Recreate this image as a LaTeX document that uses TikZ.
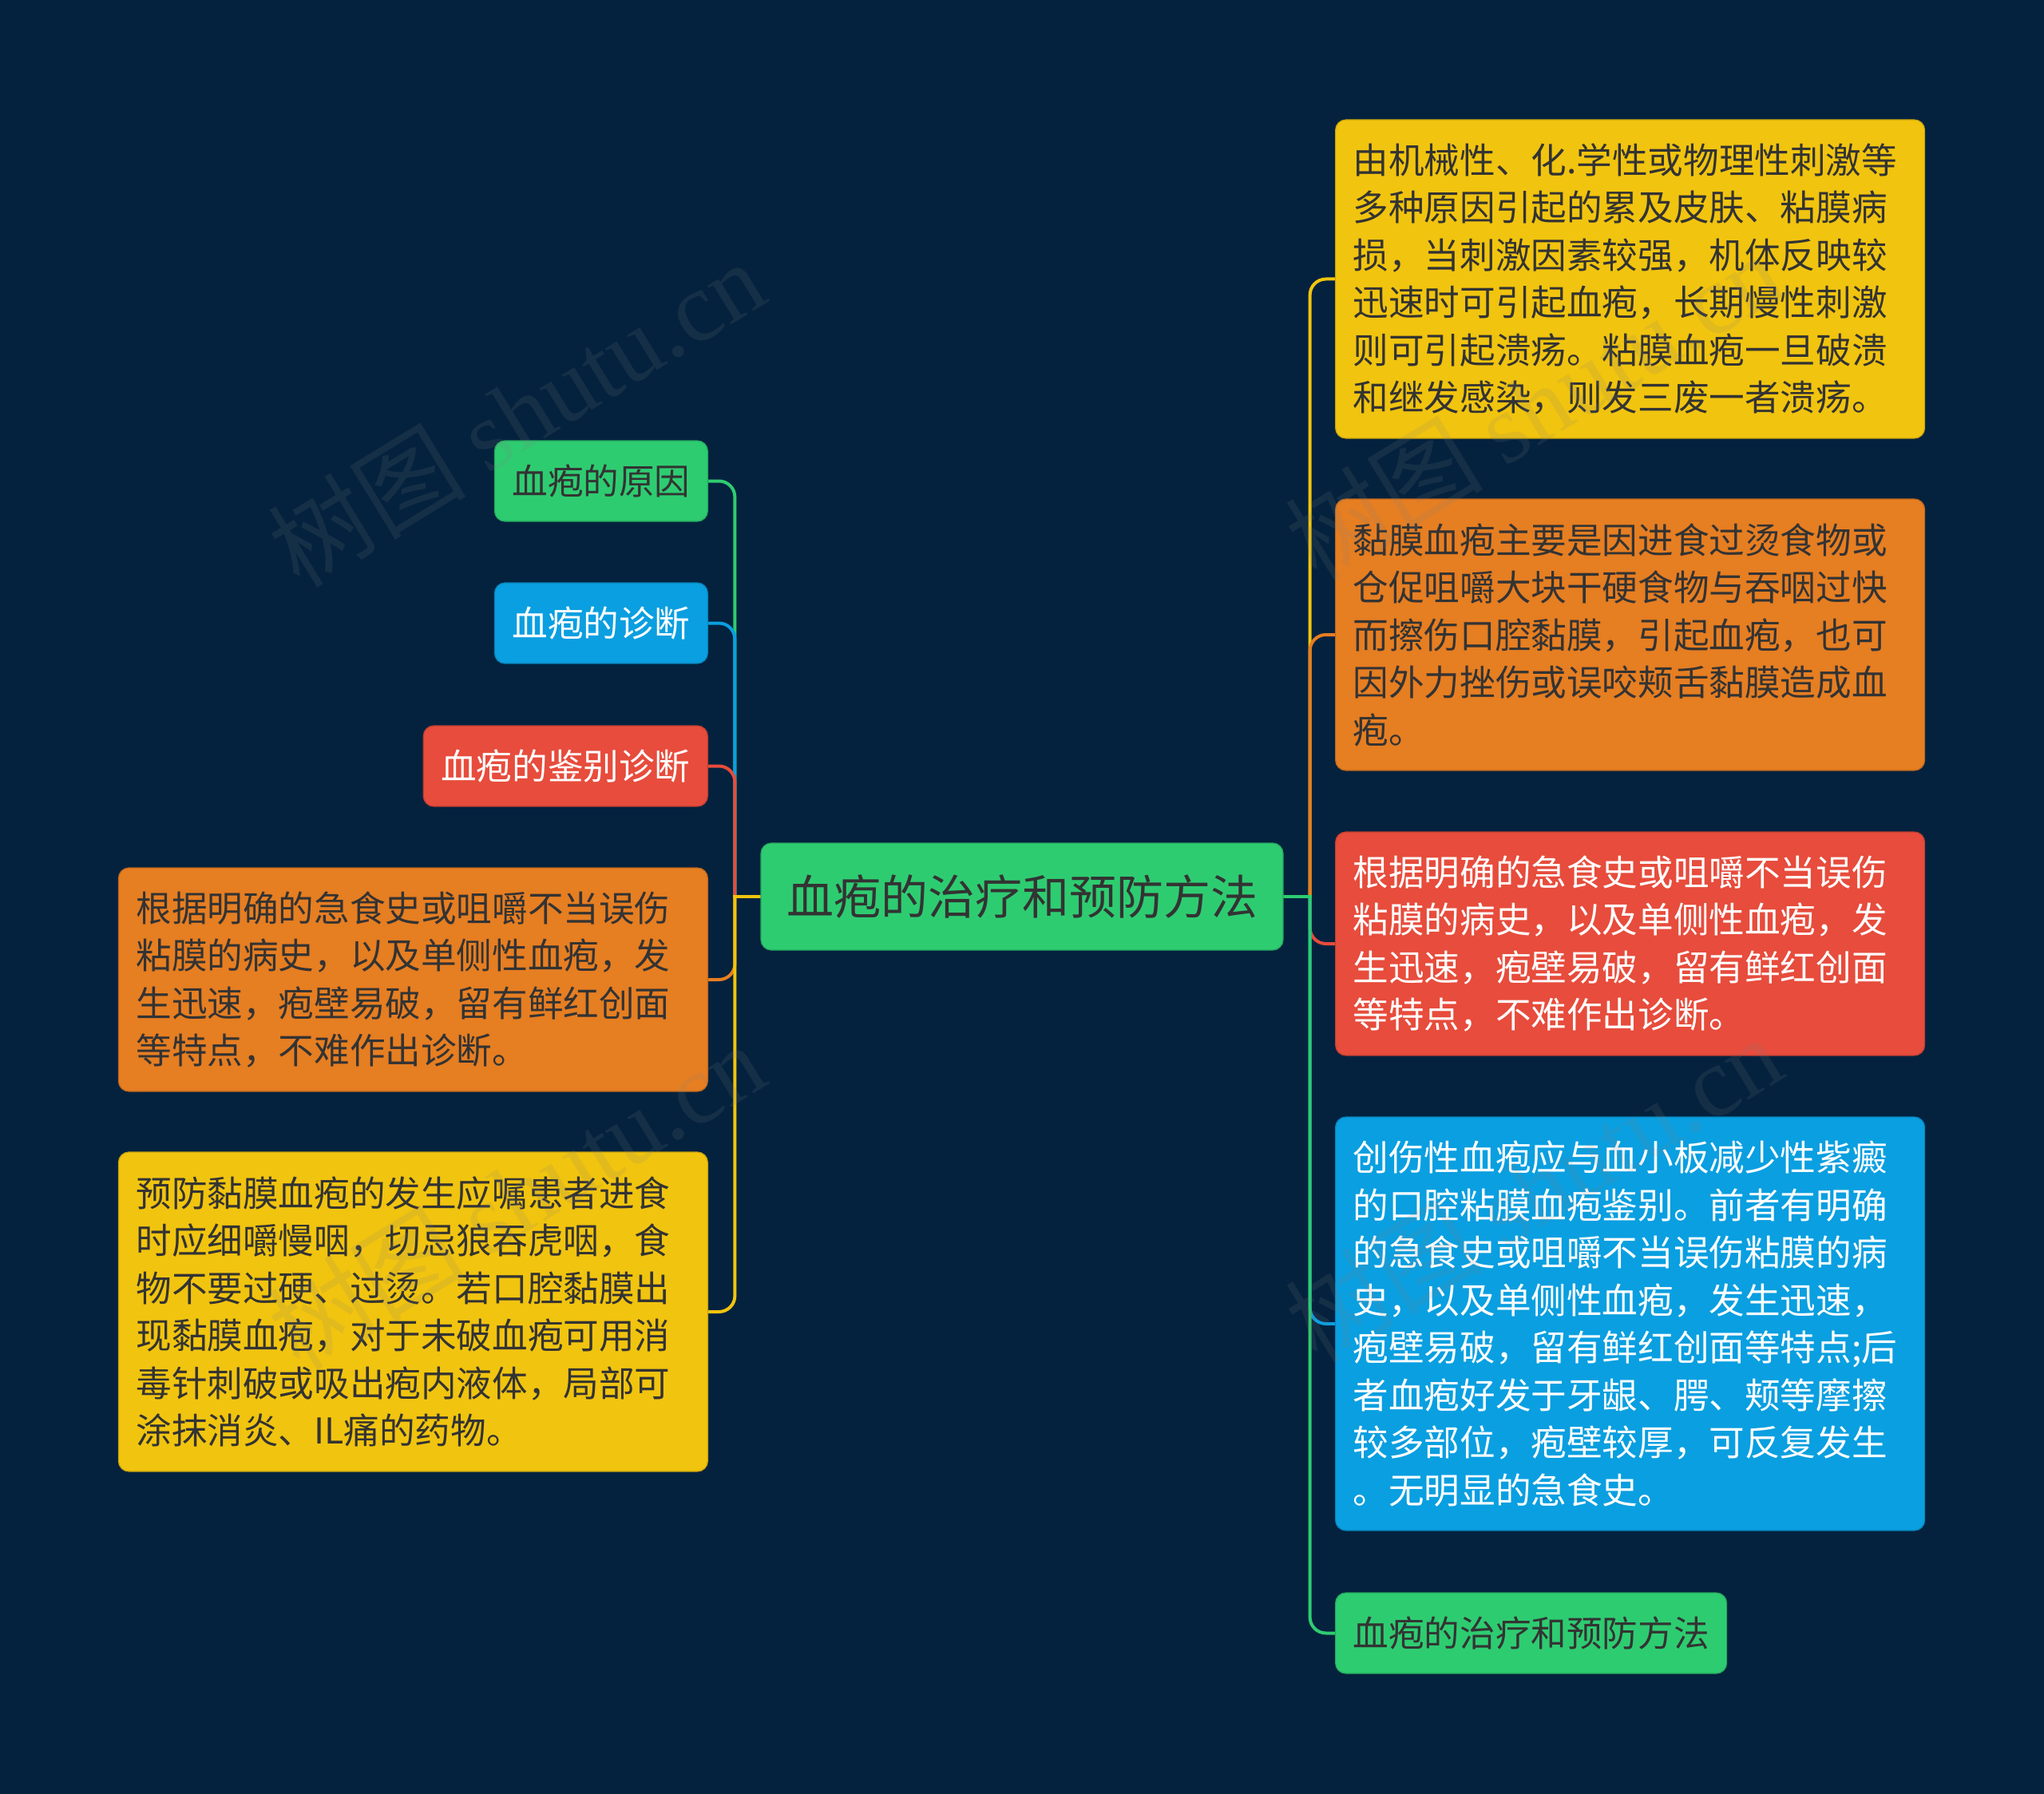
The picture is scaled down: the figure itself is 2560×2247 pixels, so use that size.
\documentclass[tikz,border=0pt]{standalone}
\usepackage{fontspec}
\setmainfont{Noto Sans CJK SC}
\newfontfamily\wmlatin{Liberation Serif}
\usetikzlibrary{calc}
\definecolor{bg}{HTML}{04223E}
\definecolor{cgreen}{HTML}{2ECC71}
\definecolor{cblue}{HTML}{0A9FE0}
\definecolor{cred}{HTML}{E74C3C}
\definecolor{corange}{HTML}{E67E22}
\definecolor{cyellow}{HTML}{F1C40F}
\definecolor{darktxt}{HTML}{333333}
\pgfdeclarelayer{bglayer}
\pgfdeclarelayer{connlayer}
\pgfsetlayers{bglayer,connlayer,main}
\begin{document}
\begin{tikzpicture}[x=0.5pt,y=-0.5pt,
  box/.style={rounded corners=6.5pt, inner xsep=11pt, inner ysep=0pt, align=left,
    font=\fontsize{22.3pt}{29.75pt}\selectfont, draw=#1!82!black, line width=0.6pt, fill=#1},
  small/.style={minimum height=50.5pt},
  big/.style={text width=347pt},
  conn/.style={draw=#1, line width=2pt},
  wm/.style={rotate=31.5, text=gray, opacity=0.14, font=\fontsize{62pt}{62pt}\selectfont}
]
\useasboundingbox (0,0) rectangle (2560,2247);
\begin{pgfonlayer}{bglayer}
\fill[bg] (0,0) rectangle (2560,2247);
\end{pgfonlayer}

% root
\node[box=cgreen, text=darktxt, minimum width=327pt, minimum height=67pt,
  font=\fontsize{29.5pt}{35pt}\selectfont, align=center] (root) at (1280,1123) {血疱的治疗和预防方法};

% left children
\node[box=cgreen, small, text=darktxt, anchor=east] (l1) at (887,602.5) {血疱的原因};
\node[box=cblue, small, text=white, anchor=east] (l2) at (887,780.5) {血疱的诊断};
\node[box=cred, small, text=white, anchor=east] (l3) at (887,959.5) {血疱的鉴别诊断};
\node[box=corange, big, text=darktxt, anchor=east, minimum height=140pt] (l4) at (887,1227) {根据明确的急食史或咀嚼不当误伤\\粘膜的病史，以及单侧性血疱，发\\生迅速，疱壁易破，留有鲜红创面\\等特点，不难作出诊断。};
\node[box=cyellow, big, text=darktxt, anchor=east, minimum height=200pt] (l5) at (887,1643) {预防黏膜血疱的发生应嘱患者进食\\时应细嚼慢咽，切忌狼吞虎咽，食\\物不要过硬、过烫。若口腔黏膜出\\现黏膜血疱，对于未破血疱可用消\\毒针刺破或吸出疱内液体，局部可\\涂抹消炎、IL痛的药物。};

% right children
\node[box=cyellow, big, text=darktxt, anchor=west, minimum height=199.5pt] (r1) at (1672,349.5) {由机械性、化.学性或物理性刺激等\\多种原因引起的累及皮肤、粘膜病\\损，当刺激因素较强，机体反映较\\迅速时可引起血疱，长期慢性刺激\\则可引起溃疡。粘膜血疱一旦破溃\\和继发感染，则发三废一者溃疡。};
\node[box=corange, big, text=darktxt, anchor=west, minimum height=170pt] (r2) at (1672,795) {黏膜血疱主要是因进食过烫食物或\\仓促咀嚼大块干硬食物与吞咽过快\\而擦伤口腔黏膜，引起血疱，也可\\因外力挫伤或误咬颊舌黏膜造成血\\疱。};
\node[box=cred, big, text=white, anchor=west, minimum height=140pt] (r3) at (1672,1182) {根据明确的急食史或咀嚼不当误伤\\粘膜的病史，以及单侧性血疱，发\\生迅速，疱壁易破，留有鲜红创面\\等特点，不难作出诊断。};
\node[box=cblue, big, text=white, anchor=west, minimum height=259pt] (r4) at (1672,1658) {创伤性血疱应与血小板减少性紫癜\\的口腔粘膜血疱鉴别。前者有明确\\的急食史或咀嚼不当误伤粘膜的病\\史，以及单侧性血疱，发生迅速，\\疱壁易破，留有鲜红创面等特点;后\\者血疱好发于牙龈、腭、颊等摩擦\\较多部位，疱壁较厚，可反复发生\\。无明显的急食史。};
\node[box=cgreen, small, text=darktxt, anchor=west] (r5) at (1672,2045.5) {血疱的治疗和预防方法};

\coordinate (jl) at ($(root.west)+(-32,0)$);
\coordinate (jr) at ($(root.east)+(33,0)$);

\begin{pgfonlayer}{connlayer}
\foreach \c/\col in {l1/cgreen,l2/cblue,l3/cred,l4/corange,l5/cyellow}{
  \draw[conn=\col, line cap=rect] (root.west) -- (jl);
  \draw[conn=\col, rounded corners=10pt] (jl) |- (\c.east);
}
\foreach \c/\col in {r1/cyellow,r2/corange,r3/cred,r4/cblue,r5/cgreen}{
  \draw[conn=\col, line cap=rect] (root.east) -- (jr);
  \draw[conn=\col, rounded corners=10pt] (jr) |- (\c.west);
}
\end{pgfonlayer}

% watermarks
\node[wm] (wm1) at (646,517) {树图 {\wmlatin shutu.cn}};
\node[wm] (wm2) at (1920,508) {树图 {\wmlatin shutu.cn}};
\node[wm] (wm3) at (646,1497) {树图 {\wmlatin shutu.cn}};
\node[wm] (wm4) at (1920,1488) {树图 {\wmlatin shutu.cn}};
\end{tikzpicture}
\end{document}
